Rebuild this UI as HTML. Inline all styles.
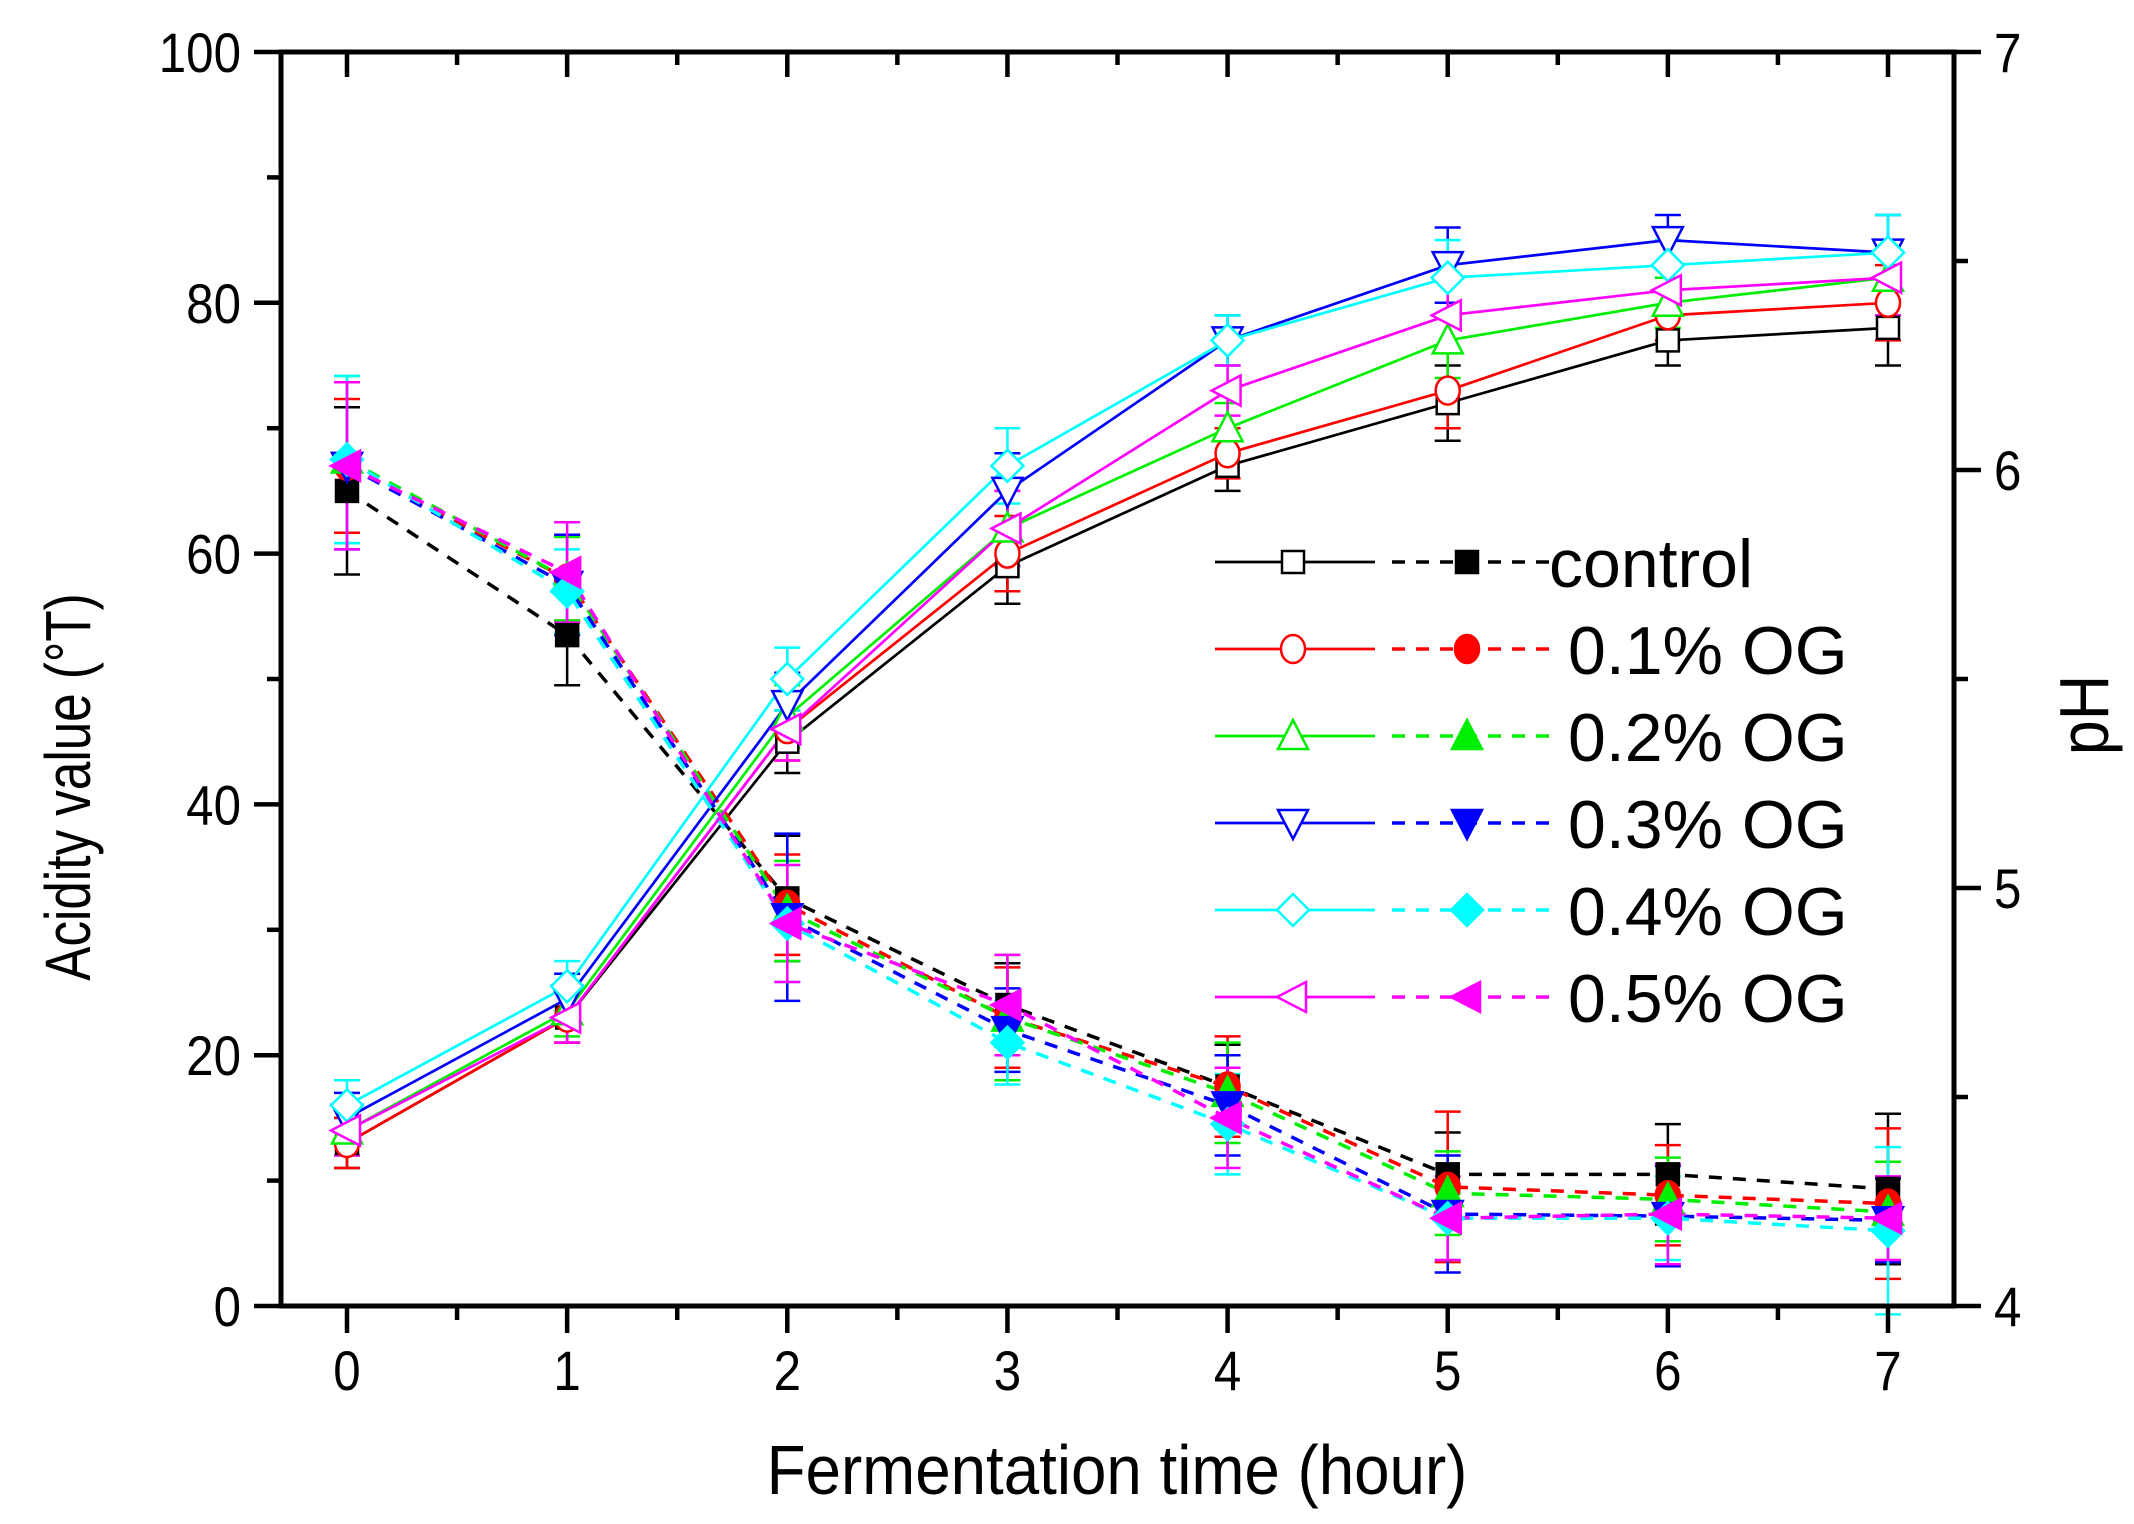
<!DOCTYPE html>
<html><head><meta charset="utf-8"><style>
html,body{margin:0;padding:0;background:#fff;}
svg{display:block;font-family:"Liberation Sans",Arial,sans-serif;}
</style></head><body>
<svg id="chart" width="2134" height="1524" viewBox="0 0 2134 1524" xmlns="http://www.w3.org/2000/svg">
<g id="series-layer"></g>
<g id="axes-layer"></g>
<g id="legend-layer"></g>
<text transform="translate(1117,1494) scale(0.91,1)" font-size="70" text-anchor="middle">Fermentation time (hour)</text>
<text transform="translate(90,787) rotate(-90) scale(0.8,1)" font-size="64" text-anchor="middle">Acidity value (°T)</text>
<text transform="translate(2108,715) rotate(-90) scale(0.9,1)" font-size="70" text-anchor="middle">pH</text>
</svg>
<script>
const hours = [0,1,2,3,4,5,6,7];
const seriesNames = ["control","0.1% OG","0.2% OG","0.3% OG","0.4% OG","0.5% OG"];
const seriesColors = ["#000000","#ff0000","#00ee00","#0000ff","#00ffff","#ff00ff"];
const seriesMarkers = ["square","circle","triangle-up","triangle-down","diamond","triangle-left"];
const acidityControl = [13,23,45,59,67,72,77,78];
const acidity01 = [13,23,46,60,68,73,79,80];
const acidity02 = [14,23.5,47,62,70,77,80,82];
const acidity03 = [15,24.5,48,65,77,83,85,84];
const acidity04 = [16,25.5,50,67,77,82,83,84];
const acidity05 = [14,23,46,62,73,79,81,82];
const acidityErr = [2,2,2.5,3,2,3,2,3];
const phControl = [5.95,5.605,4.975,4.72,4.525,4.315,4.315,4.28];
const ph01 = [6.01,5.74,4.96,4.69,4.525,4.285,4.265,4.245];
const ph02 = [6.025,5.74,4.945,4.69,4.51,4.27,4.255,4.225];
const ph03 = [6.01,5.725,4.93,4.66,4.48,4.22,4.215,4.205];
const ph04 = [6.025,5.71,4.915,4.63,4.435,4.21,4.21,4.18];
const ph05 = [6.01,5.755,4.915,4.72,4.45,4.21,4.22,4.21];
const phErrControl = [0.2,0.12,0.15,0.1,0.1,0.1,0.12,0.18];
const phErr01 = [0.16,0.1,0.12,0.12,0.12,0.18,0.12,0.18];
const phErr02 = [0.2,0.1,0.12,0.15,0.12,0.1,0.1,0.12];
const phErr03 = [0.2,0.12,0.2,0.1,0.12,0.14,0.12,0.1];
const phErr04 = [0.2,0.1,0.14,0.1,0.12,0.1,0.1,0.2];
const phErr05 = [0.2,0.12,0.14,0.12,0.12,0.1,0.12,0.1];
const yTicks = [0,20,40,60,80,100];
const phTicks = [4,5,6,7];
const xTicks = [0,1,2,3,4,5,6,7];

const acidity = [acidityControl,acidity01,acidity02,acidity03,acidity04,acidity05];
const ph = [phControl,ph01,ph02,ph03,ph04,ph05];
const phErr = [phErrControl,phErr01,phErr02,phErr03,phErr04,phErr05];

const L=281,R=1954,T=52,B=1306,X0=347,X7=1888;
const xs = h => X0 + (X7-X0)*h/7;
const ys = v => B - (B-T)*v/100;
const yp = p => B - (B-T)*(p-4)/3;
const NS="http://www.w3.org/2000/svg";
function el(tag, attrs, parent){const e=document.createElementNS(NS,tag);for(const k in attrs)e.setAttribute(k,attrs[k]);parent.appendChild(e);return e;}

function marker(type,cx,cy,color,filled,parent){
  const s=13, f=filled?color:"#fff";
  let e;
  if(type==="square") e=el("rect",{x:cx-s+2,y:cy-s+2,width:2*s-4,height:2*s-4,fill:f,stroke:color,"stroke-width":2.5},parent);
  else if(type==="circle") e=el("ellipse",{cx:cx,cy:cy,rx:s-1,ry:s+1,fill:f,stroke:color,"stroke-width":2.5},parent);
  else {
    let pts;
    if(type==="triangle-up") pts=[[cx,cy-s-3],[cx+s+2,cy+s],[cx-s-2,cy+s]];
    else if(type==="triangle-down") pts=[[cx,cy+s+3],[cx+s+2,cy-s],[cx-s-2,cy-s]];
    else if(type==="diamond") pts=[[cx,cy-s-3],[cx+s+3,cy],[cx,cy+s+3],[cx-s-3,cy]];
    else pts=[[cx-s-3,cy],[cx+s,cy-s-2],[cx+s,cy+s+2]];
    e=el("polygon",{points:pts.map(p=>p.join(",")).join(" "),fill:f,stroke:color,"stroke-width":2.5},parent);
  }
  return e;
}

const sl=document.getElementById("series-layer");
for(let i=0;i<6;i++){
  const c=seriesColors[i];
  const g=el("g",{},sl);
  
  
  hours.forEach((h,j)=>{
    const x=xs(h);
    [[ys(acidity[i][j]+acidityErr[j]),ys(acidity[i][j]-acidityErr[j])],[yp(ph[i][j]+phErr[i][j]),yp(ph[i][j]-phErr[i][j])]].forEach(([a,b])=>{
      el("line",{x1:x,x2:x,y1:a,y2:b,stroke:c,"stroke-width":2.5},g);
      el("line",{x1:x-13,x2:x+13,y1:a,y2:a,stroke:c,"stroke-width":2.5},g);
      el("line",{x1:x-13,x2:x+13,y1:b,y2:b,stroke:c,"stroke-width":2.5},g);
    });
  });
}
for(let i=0;i<6;i++){
  const c=seriesColors[i];
  const pa=el("polyline",{points:hours.map((h,j)=>xs(h)+","+ys(acidity[i][j])).join(" "),fill:"none",stroke:c,"stroke-width":2.7},sl);
  
  
  const pp=el("polyline",{points:hours.map((h,j)=>xs(h)+","+yp(ph[i][j])).join(" "),fill:"none",stroke:c,"stroke-width":3.5,"stroke-dasharray":"13,11"},sl);
  
  
}
for(let i=0;i<6;i++){
  hours.forEach((h,j)=>{
    const m1=marker(seriesMarkers[i],xs(h),ys(acidity[i][j]),seriesColors[i],false,sl);
    
    
    const m2=marker(seriesMarkers[i],xs(h),yp(ph[i][j]),seriesColors[i],true,sl);
    
    
  });
}
const ax=document.getElementById("axes-layer");
el("rect",{x:L,y:T,width:R-L,height:B-T,fill:"none",stroke:"#000","stroke-width":5},ax);
for(let v=0;v<=100;v+=10){
  const y=ys(v), major=v%20===0;
  el("line",{x1:L,x2:L-(major?27:14),y1:y,y2:y,stroke:"#000","stroke-width":4.5},ax);
}
yTicks.forEach(v=>{const t=el("text",{transform:"translate(241,"+(ys(v)+20)+") scale(0.88,1)","font-size":56,"text-anchor":"end"},ax);t.textContent=v;
  });
for(let p=4;p<=7;p+=0.5){
  const y=yp(p), major=Number.isInteger(p);
  el("line",{x1:R,x2:R+(major?27:14),y1:y,y2:y,stroke:"#000","stroke-width":4.5},ax);
}
phTicks.forEach(p=>{const t=el("text",{transform:"translate(1994,"+(yp(p)+20)+") scale(0.88,1)","font-size":56,"text-anchor":"start"},ax);t.textContent=p;
  });
for(let h=0;h<=7;h+=0.5){
  const x=xs(h), major=Number.isInteger(h);
  el("line",{x1:x,x2:x,y1:B,y2:B+(major?27:14),stroke:"#000","stroke-width":4.5},ax);
  el("line",{x1:x,x2:x,y1:T,y2:T+(major?25:13),stroke:"#000","stroke-width":4.5},ax);
}
xTicks.forEach(h=>{const t=el("text",{transform:"translate("+xs(h)+",1390) scale(0.88,1)","font-size":56,"text-anchor":"middle"},ax);t.textContent=h;
  });
const lg=document.getElementById("legend-layer");
for(let i=0;i<6;i++){
  const y=562+87*i, c=seriesColors[i];
  const g=el("g",{},lg);
  
  
  el("line",{x1:1215,x2:1375,y1:y,y2:y,stroke:c,"stroke-width":2.7},g);
  marker(seriesMarkers[i],1293,y,c,false,g);
  el("line",{x1:1392,x2:1551,y1:y,y2:y,stroke:c,"stroke-width":3.5,"stroke-dasharray":"13,11"},g);
  marker(seriesMarkers[i],1467,y,c,true,g);
  const t=el("text",{x:i===0?1549:1568,y:y+25,"font-size":68},g);
  t.textContent=seriesNames[i];
}
</script>
</body></html>
